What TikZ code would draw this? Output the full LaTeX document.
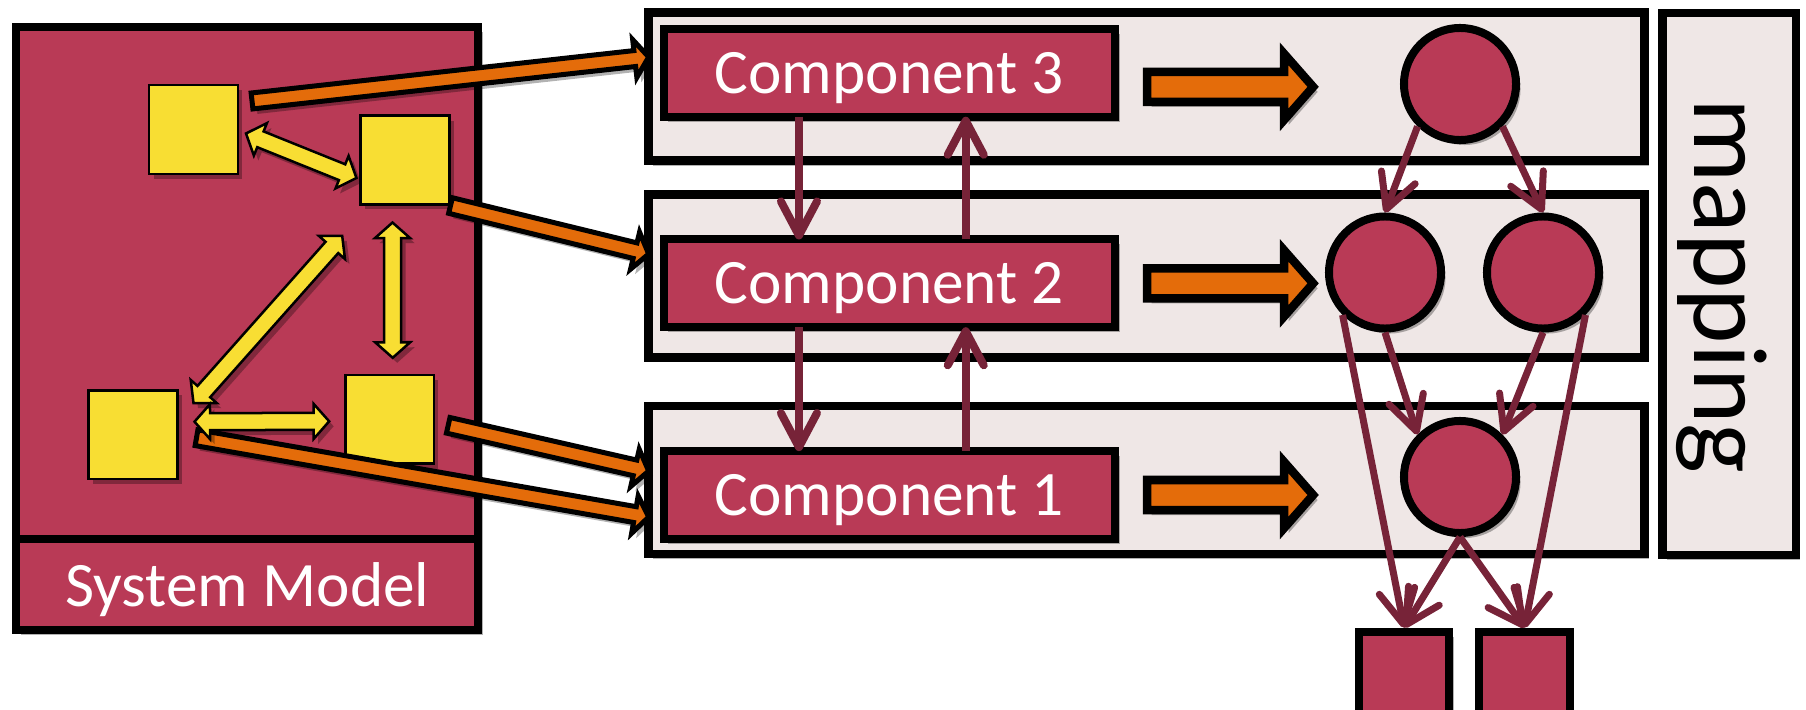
\documentclass[tikz,border=0pt]{standalone}
\usepackage{fontspec}
\setmainfont{Carlito}
\usetikzlibrary{arrows.meta,calc,shadows,positioning}

\definecolor{berry}{HTML}{B93A56}
\definecolor{paper}{HTML}{EFE7E6}
\definecolor{lemon}{HTML}{F8DE33}
\definecolor{carrot}{HTML}{E46C0A}
\definecolor{wine}{HTML}{772338}

% half shaft width / half head width / head length of a block arrow
\tikzset{arrow dims/.code args={#1/#2/#3}{\def\sw{#1}\def\hw{#2}\def\hl{#3}}}

% block arrow from #2 to #3
\newcommand{\fatarrow}[3][]{%
  \path (#2) coordinate (fat s) (#3) coordinate (fat e);
  \draw[#1] let \p1=($(fat e)-(fat s)$), \n1={veclen(\x1,\y1)}, \n2={atan2(\y1,\x1)} in
    {[shift={(fat s)},rotate=\n2]
      (0pt,-\sw) -- (\n1-\hl,-\sw) -- (\n1-\hl,-\hw) -- (\n1,0pt)
      -- (\n1-\hl,\hw) -- (\n1-\hl,\sw) -- (0pt,\sw) -- cycle};}

% block arrow with a head at both ends
\newcommand{\fatdarrow}[3][]{%
  \path (#2) coordinate (fat s) (#3) coordinate (fat e);
  \draw[#1] let \p1=($(fat e)-(fat s)$), \n1={veclen(\x1,\y1)}, \n2={atan2(\y1,\x1)} in
    {[shift={(fat s)},rotate=\n2]
      (0pt,0pt) -- (\hl,\hw) -- (\hl,\sw) -- (\n1-\hl,\sw) -- (\n1-\hl,\hw) -- (\n1,0pt)
      -- (\n1-\hl,-\hw) -- (\n1-\hl,-\sw) -- (\hl,-\sw) -- (\hl,-\hw) -- cycle};}

\begin{document}
\begin{tikzpicture}[x=0.01cm,y=-0.01cm,
  soft shadow/.style={drop shadow={shadow xshift=.45mm,shadow yshift=-.5mm,opacity=.3,fill=black}},
  box/.style={rectangle,draw,fill=berry,line width=.8mm,outer sep=0pt,text=white,
    text depth=0pt,font=\fontsize{18}{20}\selectfont,soft shadow},
  row/.style={rectangle,draw,fill=paper,line width=.85mm,outer sep=0pt,minimum width=9.95cm,soft shadow},
  comp/.style={box,minimum width=4.51cm,minimum height=.877cm},
  elem/.style={rectangle,draw,fill=lemon,line width=.25mm,minimum size=.885cm,soft shadow},
  task/.style={circle,draw,fill=berry,line width=.8mm,minimum size=1.12cm,soft shadow},
  core/.style={rectangle,draw,fill=berry,line width=.8mm,minimum size=.9cm,soft shadow},
  link/.style={color=wine,line width=.8mm,-{Straight Barb[length=3.4mm,width=3.6mm,round]}},
  big arrow/.style={draw,fill=carrot,line width=.85mm,arrow dims=1.5mm/3.3mm/2.9mm,soft shadow},
  thin arrow/.style={draw,fill=carrot,line width=.5mm,arrow dims=.8mm/1.9mm/1.4mm,soft shadow},
  yellow arrow/.style={draw,fill=lemon,line width=.25mm,arrow dims=.85mm/1.75mm/1.55mm,soft shadow}]

  \useasboundingbox (0,0) rectangle (1806,709);
  \clip (0,0) rectangle (1806,709);

  % system model with its parts
  \node[box,minimum width=4.614cm,minimum height=5.12cm] (sys) at (247.3,283) {};
  \node[box,minimum width=4.614cm,minimum height=.905cm,below=0pt of sys] (syslabel) {System Model};

  \node[elem] (sqA) at (193.5,129.5) {};
  \node[elem] (sqB) at (405,160) {};
  \node[elem] (sqC) at (133,434.7) {};
  \node[elem] (sqD) at (389.7,419.3) {};

  % rows and the mapping column
  \node[row,minimum height=1.481cm] (p3) at (1146.5,86.65) {};
  \node[row,minimum height=1.631cm] (p2) at (1146.5,275.85) {};
  \node[row,minimum height=1.48cm] (p1) at (1146.5,480) {};
  \node[row,minimum width=1.331cm,minimum height=5.414cm] (map) at (1729.15,284) {};
  \node[rotate=-90,font=\fontsize{30}{32}\selectfont] (maplabel) at (1722,286) {mapping};

  \node[comp] (c3) at (889.5,72.85) {Component 3};
  \node[comp] (c2) at (889.5,283.35) {Component 2};
  \node[comp] (c1) at (889.5,495) {Component 1};

  % task graph
  \node[task] (t) at (1460,84) {};
  \node[task] (ml) at (1385,272.5) {};
  \node[task] (mr) at (1543,272.5) {};
  \node[task] (b) at (1460,477) {};
  \node[core] (kl) at (1404.2,676.7) {};
  \node[core] (kr) at (1524.5,676.7) {};

  \path[link]
    ([xshift=-9.05mm]c3.south) edge ([xshift=-9.05mm]c2.north)
    ([xshift=7.62mm]c2.north) edge ([xshift=7.62mm]c3.south)
    ([xshift=-9.05mm]c2.south) edge ([xshift=-9.05mm]c1.north)
    ([xshift=7.62mm]c1.north) edge ([xshift=7.62mm]c2.south);

  \path[link,line width=.7mm]
    (t.south west) edge (ml.north)
    (t.south east) edge (mr.north)
    (ml.south) edge (b.north west)
    (mr.south) edge (b.north east)
    (ml.south west) edge (kl.north)
    (b.south) edge (kl.north)
    (b.south) edge (kr.north)
    (mr.south east) edge (kr.north);

  % parts into the rows
  \fatarrow[thin arrow]{$(sqA.north east)+(13,17)$}{p3.west |- 0,57}
  \fatarrow[thin arrow]{sqB.south east}{p2.west |- 0,254}
  \fatarrow[thin arrow]{$(sqD.east)+(13,6)$}{p1.west |- 0,471}
  \fatarrow[thin arrow]{$(sqC.east)+(18,3)$}{p1.west |- 0,517}

  \fatdarrow[yellow arrow]{$(sqA.east)+(7,4)$}{$(sqB.west)+(-3,18)$}
  \fatdarrow[yellow arrow]{$(sqC.north east)+(15,14)$}{$(sqB.south west)+(-17,30)$}
  \fatdarrow[yellow arrow]{$(sqB.south)+(-12.5,17)$}{$(sqD.north)+(3,-16)$}
  \fatdarrow[yellow arrow]{$(sqC.east)+(16,-13)$}{$(sqD.west)+(-15,2)$}

  % components onto the graph
  \foreach \i/\dy in {3/14,2/0,1/0}
    \fatarrow[big arrow]{$(c\i.east)+(32,\dy)$}{$(c\i.east)+(198,\dy)$};
\end{tikzpicture}
\end{document}
